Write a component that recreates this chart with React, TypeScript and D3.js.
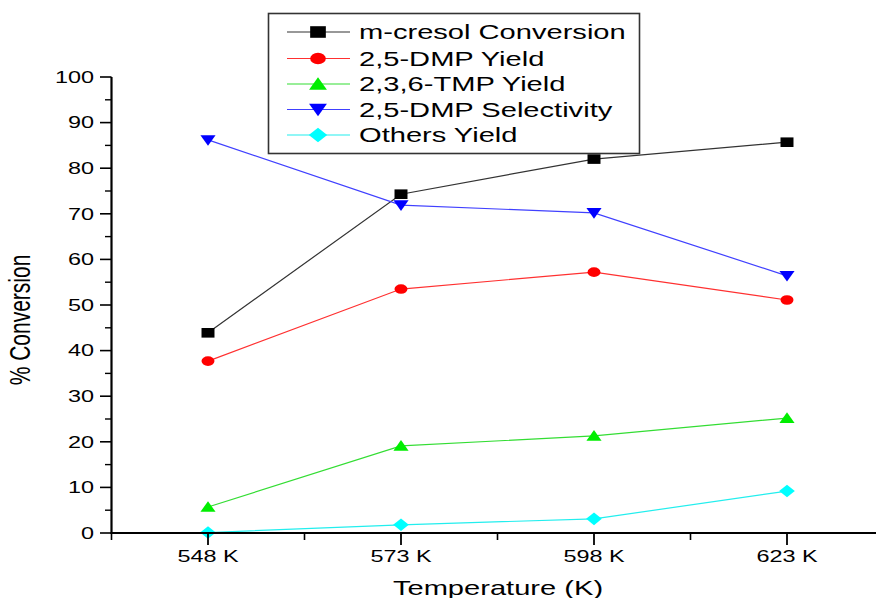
import React from 'react';
import * as d3 from 'd3';

// categories and series
const temperatures = ['548 K', '573 K', '598 K', '623 K'];
const cresolConversion = [43.9, 74.3, 82.0, 85.7];
const dmpYield = [37.7, 53.5, 57.2, 51.1];
const tmpYield = [5.7, 19.1, 21.3, 25.2];
const dmpSelectivity = [86.2, 71.9, 70.2, 56.4];
const othersYield = [0.1, 1.8, 3.1, 9.2];
const yTicks = [0, 10, 20, 30, 40, 50, 60, 70, 80, 90, 100];

const series = [
  { name: 'm-cresol Conversion', values: cresolConversion, color: '#000000', line: '#333333', shape: 'square' },
  { name: '2,5-DMP Yield', values: dmpYield, color: '#ff0000', line: '#ff3030', shape: 'circle' },
  { name: '2,3,6-TMP Yield', values: tmpYield, color: '#00ee00', line: '#33dd33', shape: 'up' },
  { name: '2,5-DMP Selectivity', values: dmpSelectivity, color: '#0000ff', line: '#4040ff', shape: 'down' },
  { name: 'Others Yield', values: othersYield, color: '#00ffff', line: '#22eeee', shape: 'diamond' },
];

const W = 876;
const H = 598;
const S = 1.42; // the original picture is stretched sideways
const FONT = 'Arial, "Liberation Sans", sans-serif';

// marker path, about 2h high before the horizontal stretch
const markerPath = (shape: string, h: number) => {
  switch (shape) {
    case 'square':
      return `M${-h},${-h}H${h}V${h}H${-h}Z`;
    case 'circle':
      return d3.symbol(d3.symbolCircle, Math.PI * h * h)()!;
    case 'up':
      return `M0,${-h - 1}L${h + 0.8},${h}L${-h - 0.8},${h}Z`;
    case 'down':
      return `M0,${h + 1}L${h + 0.8},${-h}L${-h - 0.8},${-h}Z`;
    default:
      return `M0,${-h - 1.5}L${h + 1},0L0,${h + 1.5}L${-h - 1},0Z`;
  }
};

const Marker = ({ x, y, shape, color, h = 4.8 }: { x: number; y: number; shape: string; color: string; h?: number }) => (
  <path d={markerPath(shape, h)} fill={color} transform={`translate(${x},${y}) scale(${S / 1.05},1)`} />
);

const SText = ({ x, y, size, anchor, children }: any) => (
  <text
    transform={`translate(${x},${y}) scale(${S},1)`}
    fontSize={size}
    fontFamily={FONT}
    textAnchor={anchor}
    fill="#000"
  >
    {children}
  </text>
);

export default function App() {
  const x = d3.scalePoint<string>().domain(temperatures).range([111.5, 111.5 + 4 * 193]).padding(0.5);
  const y = d3.scaleLinear().domain([0, 100]).range([533, 77]);
  const step = x.step();
  const minorY = d3.range(5, 100, 10);
  const minorX = temperatures.map((t) => x(t)! + step / 2).slice(0, 3).concat([x(temperatures[0])! - step / 2]);

  const line = d3
    .line<number>()
    .x((_, i) => x(temperatures[i])!)
    .y((d) => y(d));

  const legendRows = [32, 58.5, 84, 109.5, 135];

  return (
    <svg width={W} height={H} style={{ position: 'absolute', left: 0, top: 0, background: '#fff' }}>
      {/* data lines */}
      {series.map((s) => (
        <path key={s.name + 'l'} d={line(s.values)!} fill="none" stroke={s.line} strokeWidth={1.2} />
      ))}
      {/* markers */}
      {series.map((s) =>
        s.values.map((v, i) => (
          <Marker key={s.name + i} x={x(temperatures[i])!} y={y(v)} shape={s.shape} color={s.color} />
        ))
      )}

      {/* y axis */}
      <line x1={111.5} x2={111.5} y1={y(100)} y2={y(0) + 1} stroke="#000" strokeWidth={2.2} />
      {yTicks.map((t) => (
        <g key={'yt' + t}>
          <line x1={100} x2={111.5} y1={y(t)} y2={y(t)} stroke="#000" strokeWidth={1.6} />
          <SText x={94} y={y(t) + 5.8} size={16.5} anchor="end">
            {t}
          </SText>
        </g>
      ))}
      {minorY.map((t) => (
        <line key={'ym' + t} x1={105} x2={111.5} y1={y(t)} y2={y(t)} stroke="#000" strokeWidth={1.4} />
      ))}

      {/* x axis */}
      <line x1={110.5} x2={W} y1={533} y2={533} stroke="#000" strokeWidth={2.2} />
      {temperatures.map((t) => (
        <g key={'xt' + t}>
          <line x1={x(t)!} x2={x(t)!} y1={533} y2={545} stroke="#000" strokeWidth={1.8} />
          <SText x={x(t)!} y={561.5} size={16.5} anchor="middle">
            {t}
          </SText>
        </g>
      ))}
      {minorX.map((m) => (
        <line key={'xm' + m} x1={m} x2={m} y1={533} y2={540} stroke="#000" strokeWidth={1.6} />
      ))}

      {/* axis titles */}
      <SText x={498} y={595} size={20.5} anchor="middle">
        Temperature (K)
      </SText>
      <text
        transform={`translate(30,320) scale(${S},1) rotate(-90)`}
        fontSize={21}
        fontFamily={FONT}
        textAnchor="middle"
        fill="#000"
      >
        % Conversion
      </text>

      {/* legend */}
      <rect x={268.5} y={13.5} width={371} height={140} fill="#fff" stroke="#333" strokeWidth={1.6} />
      {series.map((s, i) => (
        <g key={s.name + 'leg'}>
          <line x1={287} x2={350} y1={legendRows[i]} y2={legendRows[i]} stroke={s.line} strokeWidth={1.2} />
          <Marker x={318} y={legendRows[i]} shape={s.shape} color={s.color} h={5.8} />
          <SText x={359} y={legendRows[i] + 7.2} size={20.5} anchor="start">
            {s.name}
          </SText>
        </g>
      ))}
    </svg>
  );
}
